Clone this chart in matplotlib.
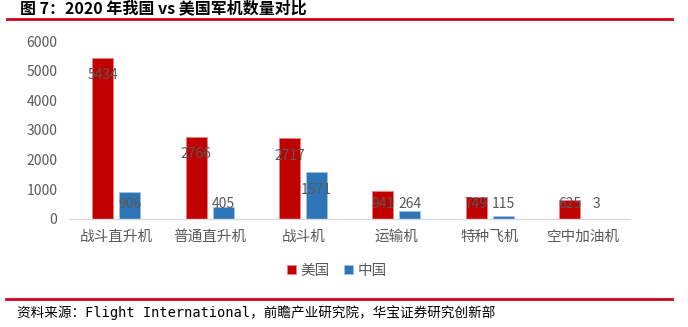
import matplotlib
matplotlib.use("Agg")
import matplotlib.pyplot as plt
import numpy as np

plt.rcParams['font.family'] = ['Noto Sans CJK SC', 'DejaVu Sans']

categories = ['战斗直升机', '普通直升机', '战斗机', '运输机', '特种飞机', '空中加油机']
usa = [5434, 2766, 2717, 941, 749, 625]
china = [906, 405, 1571, 264, 115, 3]

RED = '#C00000'
BLUE = '#2E75B6'
GRAY = '#595959'

fig = plt.figure(figsize=(6.88, 3.27), dpi=100)
ax = fig.add_axes([0.1017, 0.3303, 0.814, 0.5443])

x = np.arange(len(categories))
w = 0.226
b1 = ax.bar(x - 0.148, usa, w, color=RED, edgecolor='#F08080', linewidth=0.6, label='美国')
b2 = ax.bar(x + 0.142, china, w, color=BLUE, edgecolor='#9DC3E6', linewidth=0.6, label='中国')

# value labels sit just inside the bar top, but never below a minimum height
for bars, vals in ((b1, usa), (b2, china)):
    for r, v in zip(bars, vals):
        ax.text(r.get_x() + r.get_width() / 2, max(v - 590, 505), str(v),
                ha='center', va='center', fontsize=10, color=GRAY)

ax.set_xlim(-0.5, 5.5)
ax.set_ylim(0, 6000)
ax.set_yticks(range(0, 6001, 1000))
ax.set_xticks(x)
ax.set_xticklabels(categories, fontsize=10.5, color=GRAY)
ax.tick_params(axis='y', length=0, pad=9, labelsize=10, labelcolor=GRAY)
ax.tick_params(axis='x', length=0, pad=8)
for s in ('top', 'right', 'left'):
    ax.spines[s].set_visible(False)
ax.spines['bottom'].set_color('#D9D9D9')
ax.spines['bottom'].set_linewidth(1)

ax.legend(loc='center', bbox_to_anchor=(337 / 688, 1 - 271 / 327),
          bbox_transform=fig.transFigure, ncol=2, frameon=False,
          fontsize=10.5, handlelength=0.6, handleheight=0.6,
          handletextpad=0.3, columnspacing=1.0, labelcolor=GRAY)

fig.text(20 / 688, 1 - 8 / 327, '图 7：2020 年我国 vs 美国军机数量对比',
         fontsize=11.5, fontweight='bold', va='center', ha='left', color='black')
fig.add_artist(plt.Line2D([7 / 688, 672 / 688], [1 - 19 / 327] * 2,
                          color='#D0021B', linewidth=2, transform=fig.transFigure))
fig.add_artist(plt.Line2D([6 / 688, 672 / 688], [1 - 298.5 / 327] * 2,
                          color='#D0021B', linewidth=2, transform=fig.transFigure))
fig.text(17 / 688, 1 - 313 / 327,
         '资料来源：Flight International，前瞻产业研究院，华宝证券研究创新部',
         fontsize=9.8, va='center', ha='left', color='black',
         family=['DejaVu Sans Mono', 'Noto Sans CJK SC'])

fig.savefig('out.png', dpi=100)
